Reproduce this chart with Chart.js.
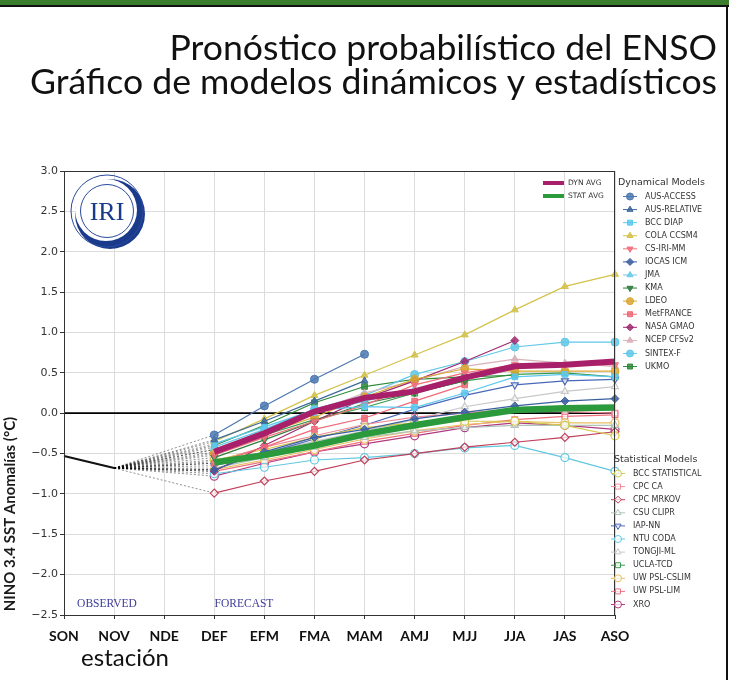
<!DOCTYPE html>
<html>
<head>
<meta charset="utf-8">
<script src="https://cdn.jsdelivr.net/npm/chart.js@4.4.1/dist/chart.umd.min.js"></script>
<style>
html,body{margin:0;padding:0;background:#fff;}
#wrap{position:relative;width:729px;height:680px;overflow:hidden;}
canvas{position:absolute;left:0;top:0;}
</style>
</head>
<body>
<div id="wrap"><canvas id="c" width="729" height="680"></canvas></div>
<script>
// ---------- DATA ----------
const categories = ['SON','NOV','NDE','DEF','EFM','FMA','MAM','AMJ','MJJ','JJA','JAS','ASO'];
const yTicks = [-2.5,-2.0,-1.5,-1.0,-0.5,0.0,0.5,1.0,1.5,2.0,2.5,3.0];
const observed = [-0.53, -0.68];           // SON, NOV
// forecasts: DEF, EFM, FMA, MAM, AMJ, MJJ, JJA, JAS, ASO
const dynAvg  = [-0.48, -0.25, 0.02, 0.19, 0.27, 0.44, 0.58, 0.60, 0.64];
const statAvg = [-0.61, -0.52, -0.40, -0.26, -0.15, -0.05, 0.04, 0.06, 0.07];

const ausAccess   = [-0.27, 0.09, 0.42, 0.73, null, null, null, null, null];
const ausRelative = [-0.33, -0.10, 0.15, 0.40, null, null, null, null, null];
const bccDiap     = [-0.38, -0.17, 0.04, 0.08, 0.07, 0.25, 0.45, 0.48, 0.45];
const colaCcsm4   = [-0.35, -0.07, 0.22, 0.47, 0.72, 0.97, 1.28, 1.57, 1.72];
const csIriMm     = [-0.52, -0.30, -0.10, 0.10, 0.35, 0.50, 0.60, 0.60, 0.60];
const iocasIcm    = [-0.70, -0.48, -0.30, -0.20, -0.07, 0.01, 0.09, 0.15, 0.18];
const jma         = [-0.42, -0.20, 0.00, 0.15, 0.30, 0.45, null, null, null];
const kma         = [-0.55, -0.33, -0.10, 0.12, 0.25, 0.40, null, null, null];
const ldeo        = [-0.50, -0.25, -0.05, 0.20, 0.42, 0.55, 0.52, 0.52, 0.52];
const metFrance   = [-0.62, -0.42, -0.20, -0.06, 0.15, 0.35, null, null, null];
const nasaGmao    = [-0.72, -0.40, -0.10, 0.18, 0.40, 0.64, 0.90, null, null];
const ncepCfsv2   = [-0.45, -0.22, 0.02, 0.25, 0.40, 0.58, 0.67, 0.62, 0.58];
const sintexF     = [-0.48, -0.20, 0.05, 0.22, 0.48, 0.64, 0.82, 0.88, 0.88];
const ukmo        = [-0.40, -0.15, 0.13, 0.33, 0.42, 0.45, 0.47, null, null];

const bccStat     = [-0.58, -0.45, -0.30, -0.18, -0.12, -0.10, -0.10, -0.15, -0.28];
const cpcCa       = [-0.60, -0.42, -0.28, -0.14, -0.05, 0.00, 0.05, 0.02, 0.00];
const cpcMrkov    = [-0.99, -0.84, -0.72, -0.58, -0.50, -0.42, -0.36, -0.30, -0.23];
const csuClipr    = [-0.68, -0.55, -0.42, -0.30, -0.22, -0.18, -0.15, -0.15, -0.15];
const iapNn       = [-0.65, -0.50, -0.32, -0.15, 0.05, 0.22, 0.35, 0.40, 0.42];
const ntuCoda     = [-0.75, -0.67, -0.58, -0.55, -0.50, -0.43, -0.40, -0.55, -0.72];
const tongjiMl    = [-0.62, -0.48, -0.35, -0.22, -0.08, 0.08, 0.18, 0.27, 0.33];
const uclaTcd     = [-0.45, -0.27, -0.08, 0.07, 0.25, 0.40, 0.48, 0.50, 0.45];
const uwCslim     = [-0.70, -0.58, -0.45, -0.32, -0.22, -0.14, -0.10, -0.12, -0.12];
const uwLim       = [-0.72, -0.60, -0.48, -0.35, -0.25, -0.15, -0.08, -0.04, -0.02];
const xro         = [-0.78, -0.62, -0.48, -0.38, -0.28, -0.18, -0.12, -0.15, -0.20];

// ---------- STYLES ----------
const dynModels = [
  ['AUS-ACCESS', ausAccess, '#4a78b0', 'circle', 0],
  ['AUS-RELATIVE', ausRelative, '#3d6a9a', 'triangle', 0],
  ['BCC DIAP', bccDiap, '#5cc8ee', 'rect', 0],
  ['COLA CCSM4', colaCcsm4, '#d4c24a', 'triangle', 0],
  ['CS-IRI-MM', csIriMm, '#f0707a', 'triangle', 180],
  ['IOCAS ICM', iocasIcm, '#3a5fa0', 'rectRot', 0],
  ['JMA', jma, '#6ccae8', 'triangle', 0],
  ['KMA', kma, '#2e7d3a', 'triangle', 180],
  ['LDEO', ldeo, '#d9a830', 'circle', 0],
  ['MetFRANCE', metFrance, '#f06878', 'rect', 0],
  ['NASA GMAO', nasaGmao, '#a02a70', 'rectRot', 0],
  ['NCEP CFSv2', ncepCfsv2, '#d8b0b8', 'triangle', 0],
  ['SINTEX-F', sintexF, '#60c8e8', 'circle', 0],
  ['UKMO', ukmo, '#2f8a3a', 'rect', 0]
];
const statModels = [
  ['BCC STATISTICAL', bccStat, '#d4c84a', 'circle', 0],
  ['CPC CA', cpcCa, '#f08898', 'rect', 0],
  ['CPC MRKOV', cpcMrkov, '#c0405a', 'rectRot', 0],
  ['CSU CLIPR', csuClipr, '#b0c4b8', 'triangle', 0],
  ['IAP-NN', iapNn, '#4a68b8', 'triangle', 180],
  ['NTU CODA', ntuCoda, '#60c8e0', 'circle', 0],
  ['TONGJI-ML', tongjiMl, '#c8c8c8', 'triangle', 0],
  ['UCLA-TCD', uclaTcd, '#3a9a4a', 'rect', 0],
  ['UW PSL-CSLIM', uwCslim, '#e8c060', 'circle', 0],
  ['UW PSL-LIM', uwLim, '#f07080', 'rect', 0],
  ['XRO', xro, '#b03a80', 'circle', 0]
];

const pad = arr => [null, null, null].concat(arr);
const datasets = [];

// observed line
datasets.push({label:'OBS', data: observed.concat(new Array(10).fill(null)),
  borderColor:'#111', borderWidth:2, pointRadius:0, order:0});

// connectors NOV -> DEF
[...dynModels, ...statModels].forEach(m => {
  const d = new Array(12).fill(null);
  d[1] = observed[1]; d[3] = m[1][0];
  datasets.push({label:'c_'+m[0], data:d, spanGaps:true, borderColor:'rgba(0,0,0,0.55)',
    borderWidth:0.8, borderDash:[2,2], pointRadius:0, order:5});
});

function hexA(h, a){const n=parseInt(h.slice(1),16);return `rgba(${n>>16},${(n>>8)&255},${n&255},${a})`;}

dynModels.forEach(m => datasets.push({label:m[0], data:pad(m[1]), borderColor:m[2], borderWidth:1.2,
  pointStyle:m[3], pointRotation:m[4], pointRadius:4, pointBackgroundColor:hexA(m[2],0.85),
  pointBorderColor:m[2], pointBorderWidth:1, order:3, clip:false}));
statModels.forEach(m => datasets.push({label:m[0], data:pad(m[1]), borderColor:m[2], borderWidth:1.2,
  pointStyle:m[3], pointRotation:m[4], pointRadius:4, pointBackgroundColor:'rgba(255,255,255,0.7)',
  pointBorderColor:m[2], pointBorderWidth:1.2, order:4, clip:false}));

datasets.push({label:'STAT AVG', data:pad(statAvg), borderColor:'#2a9a3c', borderWidth:6.5, pointRadius:0, order:1});
datasets.push({label:'DYN AVG', data:pad(dynAvg), borderColor:'#a8206a', borderWidth:6, pointRadius:0, order:0});

function fmt(v){ return v < 0 ? '\u2212' + Math.abs(v).toFixed(1) : v.toFixed(1); }

const deco = {
  id:'deco',
  beforeDraw(chart){
    const c = chart.ctx;
    c.save(); c.fillStyle='#fff'; c.fillRect(0,0,chart.width,chart.height); c.restore();
  },
  beforeDatasetsDraw(chart){
    const c = chart.ctx, a = chart.chartArea, ys = chart.scales.y;
    c.save();
    // zero line
    const y0 = ys.getPixelForValue(0);
    c.strokeStyle='#000'; c.lineWidth=1.8;
    c.beginPath(); c.moveTo(a.left,y0); c.lineTo(a.right,y0); c.stroke();
    // IRI logo
    const cx=107, cy=211;
    c.fillStyle='#1a3a8c';
    c.beginPath(); c.arc(cx+3,cy+3,35,0,Math.PI*2); c.fill();
    c.fillStyle='#fff';
    c.beginPath(); c.arc(cx-1,cy-1,31,0,Math.PI*2); c.fill();
    c.strokeStyle='#2a4a9c'; c.lineWidth=1;
    c.beginPath(); c.arc(cx,cy,36,0,Math.PI*2); c.stroke();
    c.beginPath(); c.arc(cx,cy,26.5,0,Math.PI*2); c.stroke();
    c.fillStyle='#1a3a8c'; c.font='26px "Liberation Serif"'; c.textAlign='center'; c.textBaseline='middle';
    c.fillText('IRI', cx, cy+2);
    // observed / forecast labels
    c.fillStyle='#3b3b9b'; c.font='11.5px "Liberation Serif"';
    c.fillText('OBSERVED', 107, 604);
    c.fillText('FORECAST', 244, 604);
    c.restore();
  },
  afterDraw(chart){
    const c = chart.ctx, a = chart.chartArea;
    c.save();
    // frame
    c.strokeStyle='#333'; c.lineWidth=1;
    c.strokeRect(a.left+0.5, a.top+0.5, a.right-a.left-1, a.bottom-a.top);
    // page borders
    c.fillStyle='#3a7d2c'; c.fillRect(0,0,729,5);
    c.fillStyle='#111'; c.fillRect(0,5,729,2);
    c.fillStyle='#111'; c.fillRect(726,5,2,675);
    // title
    c.fillStyle='#111'; c.textAlign='right'; c.textBaseline='alphabetic';
    c.font='100px Lato';
    const w2 = c.measureText('Gráfico de modelos dinámicos y estadísticos').width;
    const fs = 100*687/w2;
    c.font = fs.toFixed(2)+'px Lato';
    c.fillText('Pronóstico probabilístico del ENSO', 717, 60);
    c.fillText('Gráfico de modelos dinámicos y estadísticos', 717, 94);
    // axis titles
    c.textAlign='center'; c.textBaseline='alphabetic';
    c.font='24px Lato'; c.fillStyle='#111';
    c.fillText('estación', 125, 666);
    c.save(); c.translate(15, 514); c.rotate(-Math.PI/2);
    c.font='bold 15px Lato'; c.fillStyle='#1a1a1a'; c.fillText('NINO 3.4 SST Anomalías (°C)', 0, 0); c.restore();
    // avg legend
    c.lineWidth=4;
    c.strokeStyle='#a8206a'; c.beginPath(); c.moveTo(543,183); c.lineTo(564,183); c.stroke();
    c.strokeStyle='#2a9a3c'; c.beginPath(); c.moveTo(543,196); c.lineTo(564,196); c.stroke();
    c.fillStyle='#333'; c.textAlign='left'; c.textBaseline='middle';
    c.font='7.5px "DejaVu Sans"';
    c.fillText('DYN AVG', 568, 183);
    c.fillText('STAT AVG', 568, 196);
    // model legends
    const drawItems = (list, x1, x2, xm, xt, y0, dy, hollow) => {
      list.forEach((m,i) => {
        const y = y0 + i*dy;
        c.strokeStyle=m[2]; c.lineWidth=1;
        c.beginPath(); c.moveTo(x1,y); c.lineTo(x2,y); c.stroke();
        c.fillStyle = hollow ? 'rgba(255,255,255,0.7)' : hexA(m[2],0.85);
        c.strokeStyle = m[2];
        c.lineWidth = 1;
        Chart.helpers.drawPoint(c, {pointStyle:m[3], radius:3.5, rotation:m[4], borderWidth:1}, xm, y);
        c.fillStyle='#333'; c.font='8px "DejaVu Sans"'; c.textAlign='left'; c.textBaseline='middle';
        c.fillText(m[0], xt, y);
      });
    };
    c.fillStyle='#333'; c.font='9.5px "DejaVu Sans"'; c.textAlign='left'; c.textBaseline='middle';
    c.fillText('Dynamical Models', 618, 183);
    drawItems(dynModels, 623, 637, 630, 645, 196.5, 13.08, false);
    c.fillStyle='#333'; c.font='9.5px "DejaVu Sans"'; c.textAlign='left'; c.textBaseline='middle';
    c.fillText('Statistical Models', 614, 460);
    drawItems(statModels, 611, 625, 618, 633, 473.5, 13.1, true);
    c.restore();
  }
};

new Chart(document.getElementById('c'), {
  type:'line',
  data:{labels:categories, datasets},
  options:{
    responsive:false, animation:false, devicePixelRatio:1,
    layout:{padding:{left:0, right:114, top:171, bottom:0}},
    plugins:{legend:{display:false}, tooltip:{enabled:false}},
    scales:{
      x:{type:'category', offset:false,
         grid:{color:'#dcdcdc', lineWidth:1, tickLength:4, drawTicks:true, tickColor:'#333'},
         border:{color:'#333', width:1},
         ticks:{font:{family:'Lato', size:14, weight:'bold'}, color:'#111', padding:9, autoSkip:false, maxRotation:0},
         afterFit(s){ s.height = 65; }},
      y:{type:'linear', min:yTicks[0], max:yTicks[yTicks.length-1],
         afterBuildTicks(s){ s.ticks = yTicks.map(v=>({value:v})); },
         grid:{color:'#dcdcdc', lineWidth:1, tickLength:4, drawTicks:true, tickColor:'#333'},
         border:{color:'#333', width:1},
         ticks:{callback:v=>fmt(v), font:{family:'DejaVu Sans', size:11}, color:'#333', padding:2},
         afterFit(s){ s.width = 64; }}
    }
  },
  plugins:[deco]
});
</script>
</body>
</html>
